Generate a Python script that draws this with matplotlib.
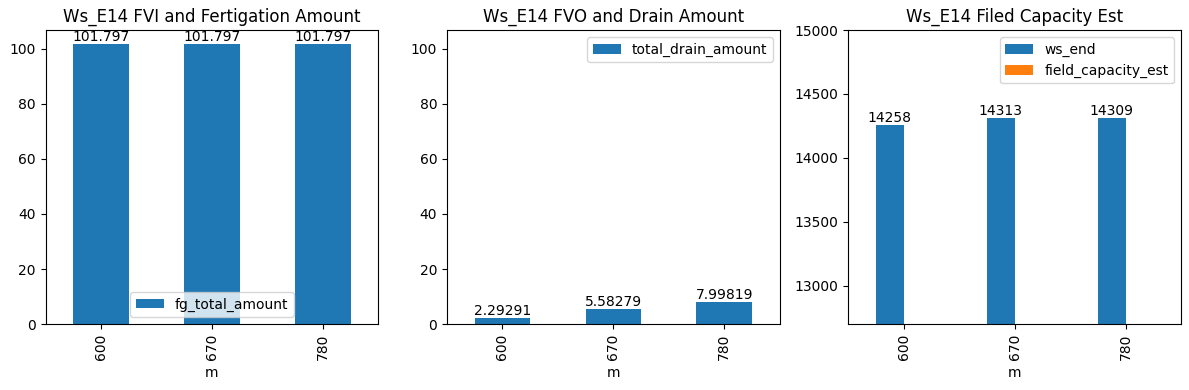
import matplotlib
matplotlib.use("Agg")
import matplotlib.pyplot as plt
import numpy as np

categories = ["600", "670", "780"]
fg_total_amount = [101.797, 101.797, 101.797]
total_drain_amount = [2.29291, 5.58279, 7.99819]
ws_end = [14258, 14313, 14309]
field_capacity_est = [0, 0, 0]

fig, axes = plt.subplots(1, 3, figsize=(11.89, 3.9), dpi=100)
x = np.arange(len(categories))
blue, orange = "#1f77b4", "#ff7f0e"

ax = axes[0]
b = ax.bar(x, fg_total_amount, 0.5, color=blue, label="fg_total_amount")
ax.bar_label(b)
ax.set_title("Ws_E14 FVI and Fertigation Amount")
ax.legend(loc="lower center")
ylim = ax.get_ylim()

ax = axes[1]
b = ax.bar(x, total_drain_amount, 0.5, color=blue, label="total_drain_amount")
ax.bar_label(b)
ax.set_title("Ws_E14 FVO and Drain Amount")
ax.set_ylim(ylim)
ax.legend(loc="upper right")

ax = axes[2]
b1 = ax.bar(x - 0.125, ws_end, 0.25, color=blue, label="ws_end")
b2 = ax.bar(x + 0.125, field_capacity_est, 0.25, color=orange, label="field_capacity_est")
ax.bar_label(b1)
ax.set_ylim(12700, 15000)
ax.set_title("Ws_E14 Filed Capacity Est")
ax.legend(loc="upper right")

for ax in axes:
    ax.set_xticks(x)
    ax.set_xticklabels(categories, rotation=90)
    ax.set_xlim(-0.5, len(categories) - 0.5)
    ax.set_xlabel("m")

fig.subplots_adjust(left=0.0383, right=0.9933, top=0.923, bottom=0.1692, wspace=0.206)
fig.savefig("out.png")
